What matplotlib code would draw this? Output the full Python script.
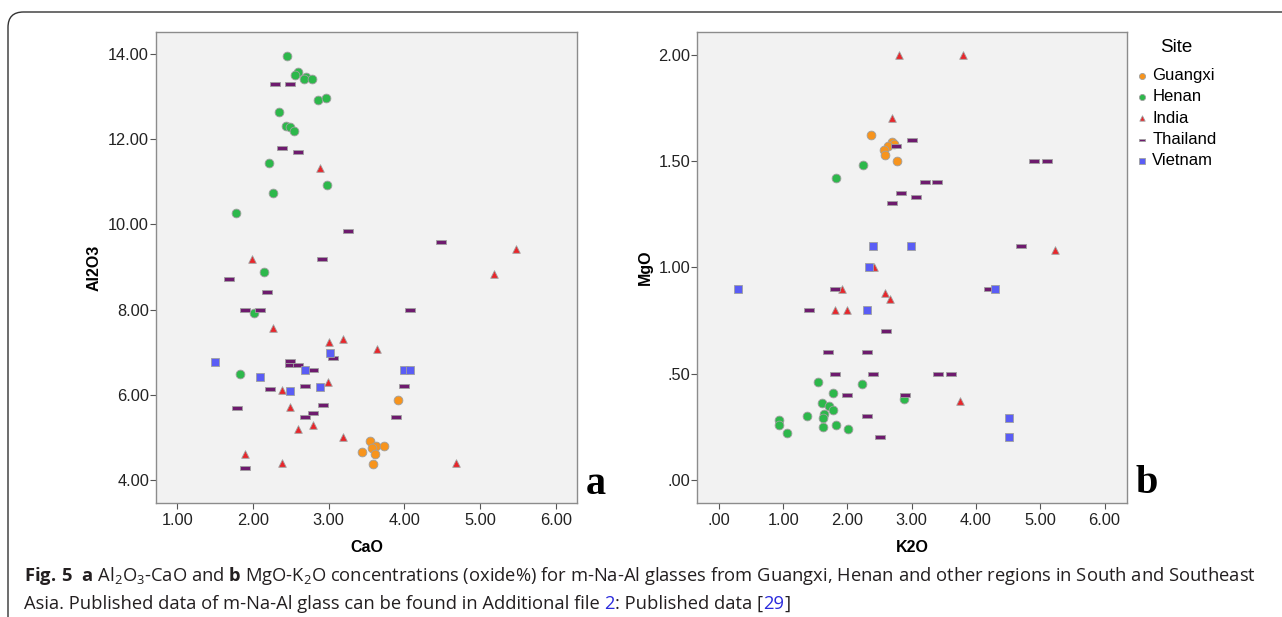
import matplotlib
matplotlib.use("Agg")
import matplotlib.pyplot as plt
from matplotlib.path import Path
from matplotlib.patches import FancyBboxPatch

plt.rcParams["font.family"] = "Liberation Sans"
plt.rcParams["mathtext.fontset"] = "custom"
plt.rcParams["mathtext.rm"] = "Open Sans"
plt.rcParams["mathtext.bf"] = "Open Sans:bold"

# ---- data: panel a (CaO vs Al2O3) ----
guangxi_cao = [3.92, 3.55, 3.62, 3.73, 3.57, 3.44, 3.61, 3.58]
guangxi_al2o3 = [5.89, 4.91, 4.81, 4.80, 4.75, 4.65, 4.62, 4.37]
henan_cao = [2.45, 2.59, 2.56, 2.70, 2.67, 2.78, 2.86, 2.97, 2.35, 2.44, 2.49, 2.54,
             2.21, 2.98, 2.27, 1.78, 2.14, 2.02, 1.83]
henan_al2o3 = [13.95, 13.57, 13.51, 13.47, 13.41, 13.42, 12.92, 12.96, 12.64, 12.31, 12.30, 12.19,
               11.45, 10.92, 10.74, 10.27, 8.89, 7.92, 6.48]
india_cao = [2.89, 5.48, 1.99, 5.18, 2.26, 3.00, 3.19, 3.64, 2.99, 2.39, 2.49, 2.79,
             2.59, 3.19, 1.89, 2.39, 4.68]
india_al2o3 = [11.32, 9.42, 9.19, 8.83, 7.57, 7.24, 7.31, 7.07, 6.31, 6.11, 5.71, 5.30,
               5.20, 5.00, 4.61, 4.40, 4.40]
thailand_cao = [2.29, 2.49, 2.39, 2.59, 3.26, 4.48, 2.91, 1.69, 2.19, 1.89, 2.09, 4.08, 2.49,
                2.49, 2.59, 2.79, 3.06, 2.22, 2.69, 3.99, 1.79, 2.92, 2.79, 2.69, 3.89, 1.89]
thailand_al2o3 = [13.31, 13.31, 11.80, 11.70, 9.84, 9.60, 9.19, 8.71, 8.41, 8.00, 8.00, 8.00, 6.80,
                  6.69, 6.69, 6.59, 6.86, 6.13, 6.20, 6.20, 5.69, 5.77, 5.58, 5.49, 5.49, 4.28]
vietnam_cao = [1.50, 2.10, 2.49, 2.69, 2.89, 3.02, 3.99, 4.08]
vietnam_al2o3 = [6.76, 6.43, 6.09, 6.59, 6.19, 6.99, 6.59, 6.59]

# ---- data: panel b (K2O vs MgO) ----
guangxi_k2o = [2.37, 2.69, 2.73, 2.63, 2.57, 2.58, 2.77]
guangxi_mgo = [1.62, 1.59, 1.58, 1.57, 1.55, 1.53, 1.50]
henan_k2o = [2.24, 1.82, 1.54, 2.22, 2.88, 1.77, 1.60, 1.72, 1.77, 1.64, 1.62, 1.37,
             0.94, 0.93, 1.62, 1.82, 2.01, 1.06]
henan_mgo = [1.48, 1.42, 0.46, 0.45, 0.38, 0.41, 0.36, 0.35, 0.33, 0.31, 0.29, 0.30,
             0.28, 0.26, 0.25, 0.26, 0.24, 0.22]
india_k2o = [2.80, 3.80, 2.70, 5.23, 2.41, 1.91, 2.58, 2.67, 1.80, 2.00, 3.75]
india_mgo = [2.00, 2.00, 1.70, 1.08, 1.00, 0.90, 0.88, 0.85, 0.80, 0.80, 0.37]
thailand_k2o = [3.00, 2.75, 4.90, 5.11, 3.21, 3.40, 2.84, 3.07, 2.70, 4.70, 1.80, 4.20,
                1.40, 2.60, 1.70, 2.30, 1.80, 2.40, 3.41, 3.61, 2.00, 2.90, 2.30, 2.50]
thailand_mgo = [1.60, 1.57, 1.50, 1.50, 1.40, 1.40, 1.35, 1.33, 1.30, 1.10, 0.90, 0.90,
                0.80, 0.70, 0.60, 0.60, 0.50, 0.50, 0.50, 0.50, 0.40, 0.40, 0.30, 0.20]
vietnam_k2o = [2.40, 2.99, 2.34, 0.30, 4.30, 2.31, 4.51, 4.51]
vietnam_mgo = [1.10, 1.10, 1.00, 0.90, 0.90, 0.80, 0.29, 0.20]

sites = ["Guangxi", "Henan", "India", "Thailand", "Vietnam"]

a_xticks = [1, 2, 3, 4, 5, 6]
a_xlabels = ["1.00", "2.00", "3.00", "4.00", "5.00", "6.00"]
a_yticks = [4, 6, 8, 10, 12, 14]
a_ylabels = ["4.00", "6.00", "8.00", "10.00", "12.00", "14.00"]
b_xticks = [0, 1, 2, 3, 4, 5, 6]
b_xlabels = [".00", "1.00", "2.00", "3.00", "4.00", "5.00", "6.00"]
b_yticks = [0, 0.5, 1.0, 1.5, 2.0]
b_ylabels = [".00", ".50", "1.00", "1.50", "2.00"]

# flat bar marker for Thailand
bar_marker = Path([(-1, -0.38), (1, -0.38), (1, 0.38), (-1, 0.38), (-1, -0.38)],
                  [Path.MOVETO, Path.LINETO, Path.LINETO, Path.LINETO, Path.CLOSEPOLY])

styles = {
    "Guangxi": dict(marker="o", s=40, c="#f7941d"),
    "Henan": dict(marker="o", s=40, c="#2db84b"),
    "India": dict(marker="^", s=30, c="#e8262b"),
    "Thailand": dict(marker=bar_marker, s=48, c="#6e1b6e"),
    "Vietnam": dict(marker="s", s=40, c="#5a5df5"),
}

W, H = 1282, 617
fig = plt.figure(figsize=(W / 100, H / 100), dpi=100)

# rounded frame around the figure
frame = FancyBboxPatch((8 / W, 1 - 12 / H - 640 / H), 1300 / W, 640 / H,
                       boxstyle="round,pad=0,rounding_size=0.012",
                       transform=fig.transFigure, fill=False, edgecolor="#333333",
                       linewidth=1.0, mutation_aspect=W / H)
fig.patches.append(frame)

ax1 = fig.add_axes([156 / W, 1 - 503 / H, 421 / W, 471 / H])
ax2 = fig.add_axes([697 / W, 1 - 503 / H, 430 / W, 471 / H])


def style_axes(ax):
    ax.set_facecolor("#f2f2f2")
    for sp in ax.spines.values():
        sp.set_color("#8c8c8c")
        sp.set_linewidth(1.0)
    ax.tick_params(direction="out", length=4, width=0.8, color="#555555",
                   labelsize=11.8, labelcolor="#222222")
    ax.tick_params(axis="y", pad=1)
    ax.tick_params(axis="x", pad=3.5)


def draw(ax, data):
    handles = []
    for site in sites:
        xs, ys = data[site]
        st = styles[site]
        h = ax.scatter(xs, ys, marker=st["marker"], s=st["s"], c=st["c"],
                       edgecolors="#a0a0a0", linewidths=0.6, label=site, zorder=3)
        handles.append(h)
    return handles


data_a = {
    "Guangxi": (guangxi_cao, guangxi_al2o3),
    "Henan": (henan_cao, henan_al2o3),
    "India": (india_cao, india_al2o3),
    "Thailand": (thailand_cao, thailand_al2o3),
    "Vietnam": (vietnam_cao, vietnam_al2o3),
}
data_b = {
    "Guangxi": (guangxi_k2o, guangxi_mgo),
    "Henan": (henan_k2o, henan_mgo),
    "India": (india_k2o, india_mgo),
    "Thailand": (thailand_k2o, thailand_mgo),
    "Vietnam": (vietnam_k2o, vietnam_mgo),
}

style_axes(ax1)
draw(ax1, data_a)
ax1.set_xlim(0.72, 6.28)
ax1.set_ylim(3.46, 14.52)
ax1.set_xticks(a_xticks)
ax1.set_xticklabels(a_xlabels)
ax1.set_yticks(a_yticks)
ax1.set_yticklabels(a_ylabels)
ax1.set_xlabel("CaO", fontsize=11.5, fontweight="bold", labelpad=8)
ax1.set_ylabel("Al2O3", fontsize=11.5, fontweight="bold", labelpad=5)

style_axes(ax2)
handles = draw(ax2, data_b)
ax2.set_xlim(-0.34, 6.35)
ax2.set_ylim(-0.108, 2.106)
ax2.set_xticks(b_xticks)
ax2.set_xticklabels(b_xlabels)
ax2.set_yticks(b_yticks)
ax2.set_yticklabels(b_ylabels)
ax2.set_xlabel("K2O", fontsize=11.5, fontweight="bold", labelpad=8)
ax2.set_ylabel("MgO", fontsize=11.5, fontweight="bold", labelpad=4)

# panel letters
fig.text(596 / W, 1 - 494 / H, "a", fontsize=29, fontweight="bold",
         family="Liberation Serif", ha="center", va="baseline")
fig.text(1136 / W, 1 - 493 / H, "b", fontsize=29, fontweight="bold",
         family="Liberation Serif", ha="left", va="baseline")

# legend
fig.text(1176 / W, 1 - 48 / H, "Site", fontsize=13.5, ha="center", va="center")
leg = fig.legend(handles=handles, labels=sites, loc="upper left",
                 bbox_to_anchor=(1134 / W, 1 - 68 / H), frameon=False,
                 fontsize=12, markerscale=0.7,
                 handletextpad=0.1, handlelength=1.0, labelspacing=0.38,
                 borderpad=0, borderaxespad=0)

# caption
cap_color = "#231f20"
cap_size = 13.2
line1 = (r"$\mathbf{Fig.\,5}$  $\mathbf{a}$ Al$_2$O$_3$-CaO and $\mathbf{b}$ MgO-K$_2$O "
         r"concentrations (oxide%) for m-Na-Al glasses from Guangxi, Henan and other regions "
         r"in South and Southeast")
fig.text(24 / W, 1 - 581 / H, line1, fontsize=cap_size, family="Open Sans",
         color=cap_color, ha="left", va="baseline")

pieces = [
    ("Asia. Published data of m-Na-Al glass can be found in Additional file ", cap_color),
    ("2", "#2b2bdd"),
    (": Published data [", cap_color),
    ("29", "#2b2bdd"),
    ("]", cap_color),
]
fig.canvas.draw()
renderer = fig.canvas.get_renderer()
x = 24
for s, col in pieces:
    t = fig.text(x / W, 1 - 609 / H, s, fontsize=cap_size, family="Open Sans",
                 color=col, ha="left", va="baseline")
    bb = t.get_window_extent(renderer=renderer)
    x = bb.x1

fig.savefig("out.png", dpi=100)
